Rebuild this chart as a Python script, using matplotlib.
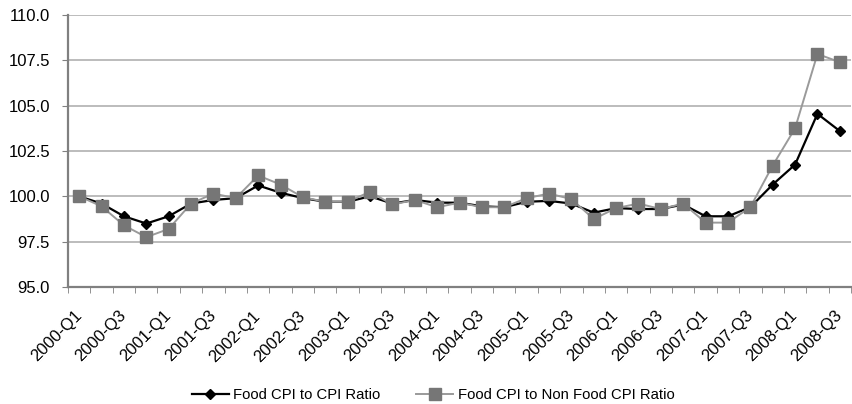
import matplotlib.pyplot as plt
import numpy as np

plt.rcParams['font.family'] = ['Liberation Sans', 'DejaVu Sans']

quarters = [f"{y}-Q{q}" for y in range(2000, 2009) for q in range(1, 5)][:35]

food_cpi_ratio = [100.0, 99.6, 98.9, 98.5, 98.9, 99.6, 99.8, 99.9,
                  100.6, 100.2, 99.9, 99.7, 99.7, 100.0, 99.6, 99.8,
                  99.65, 99.65, 99.45, 99.4, 99.7, 99.75, 99.6, 99.1,
                  99.35, 99.3, 99.3, 99.55, 98.9, 98.9, 99.4, 100.65,
                  101.75, 104.55, 103.6]
food_nonfood_ratio = [100.0, 99.45, 98.4, 97.75, 98.2, 99.6, 100.15, 99.9,
                      101.15, 100.65, 99.95, 99.7, 99.7, 100.25, 99.55, 99.8,
                      99.4, 99.65, 99.4, 99.4, 99.9, 100.15, 99.85, 98.75,
                      99.35, 99.6, 99.3, 99.6, 98.55, 98.55, 99.4, 101.7,
                      103.75, 107.85, 107.4]

fig = plt.figure(figsize=(8.52, 4.04), dpi=100)
ax = fig.add_axes([68 / 852, 1 - 287 / 404, 783 / 852, 272 / 404])

x = np.arange(len(quarters))
ax.plot(x, food_cpi_ratio, color='black', lw=1.6, marker='D', ms=5.5,
        mfc='black', mec='black', label='Food CPI to CPI Ratio', zorder=3)
ax.plot(x, food_nonfood_ratio, color='#9a9a9a', lw=1.4, marker='s', ms=8,
        mfc='#767676', mec='#767676', label='Food CPI to Non Food CPI Ratio', zorder=4)

# y axis
yticks = np.arange(95, 110.1, 2.5)
ax.set_ylim(95, 110)
ax.set_yticks(yticks)
ax.set_yticklabels([f"{v:.1f}" for v in yticks], fontsize=12)
ax.yaxis.grid(True, color='#b0b0b0', lw=1.2)
ax.set_axisbelow(True)
ax.tick_params(axis='y', length=4, color='#808080', pad=9)

# x axis: labels on every other quarter, ticks between categories
ax.set_xlim(-0.5, len(quarters) - 0.5)
ax.set_xticks(x[::2])
ax.set_xticklabels(quarters[::2], rotation=45, ha='right', va='center',
                   rotation_mode='anchor', fontsize=12)
ax.set_xticks(np.arange(-0.5, len(quarters), 1), minor=True)
ax.tick_params(axis='x', which='major', length=0, pad=19)
ax.tick_params(axis='x', which='minor', length=4, color='#808080', direction='out')

for s in ['top', 'right']:
    ax.spines[s].set_visible(False)
for s in ['left', 'bottom']:
    ax.spines[s].set_color('#808080')
    ax.spines[s].set_linewidth(1.6)

fig.legend(loc='center', bbox_to_anchor=(433 / 852, 1 - 395 / 404), ncol=2, frameon=False,
           fontsize=10.7, handlelength=2.5, columnspacing=2.4, handletextpad=0.3)

plt.savefig('out.png', dpi=100)
